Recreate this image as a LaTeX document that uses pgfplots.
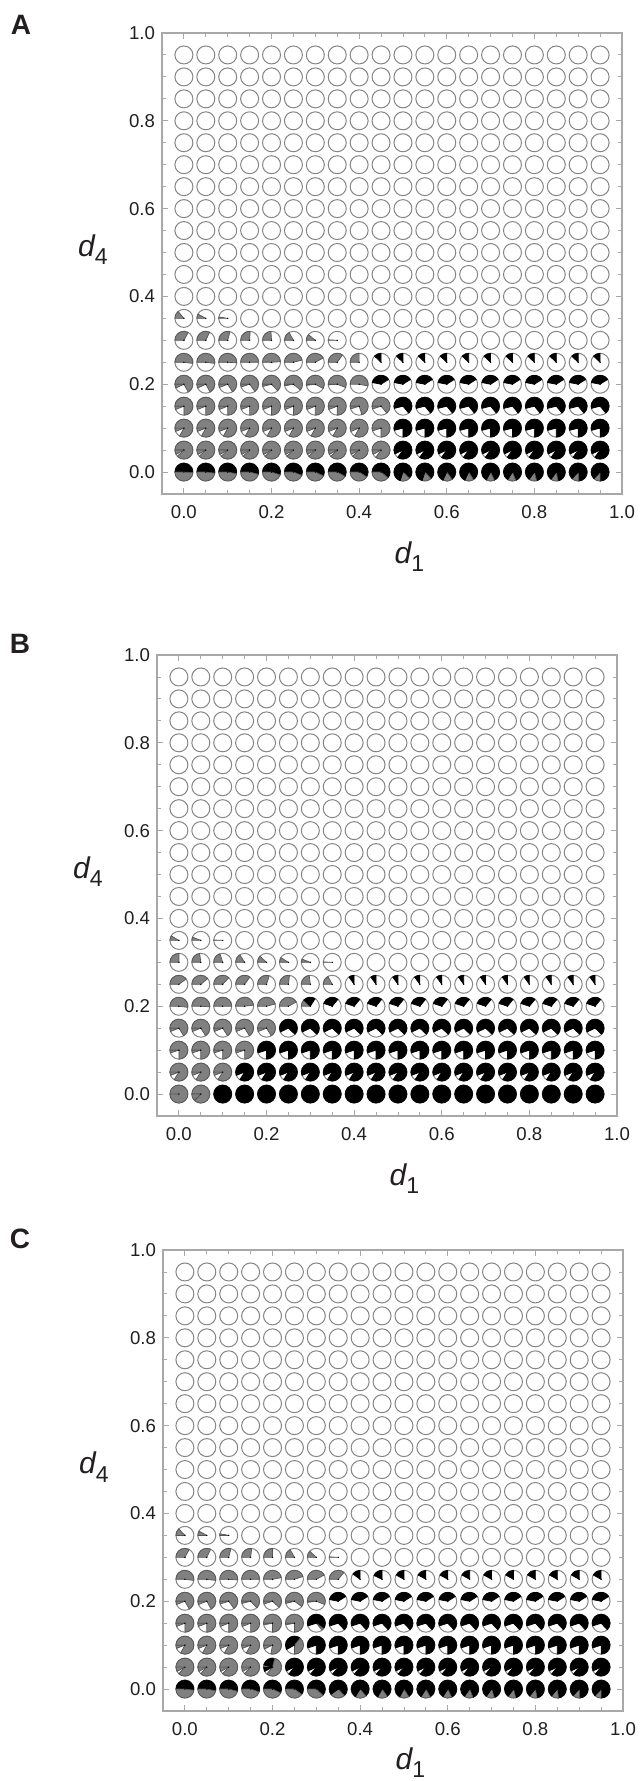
\documentclass[border=0pt]{standalone}
\usepackage{pgfplots}
\pgfplotsset{compat=1.18}
\usepackage{pgfplotstable}
\usepackage{fontspec}
\setmainfont{Liberation Sans}

\definecolor{piegray}{HTML}{808080}
\definecolor{grayedge}{HTML}{555555}
\definecolor{ringgray}{HTML}{858585}
\definecolor{axgray}{HTML}{A8A8A8}
\definecolor{txt}{HTML}{231F20}

\newcommand\pierad{4.5pt}
% one sector, clockwise from 9 o'clock: start fraction, fraction, fill, edge
\newcommand\sector[4]{%
  \pgfmathparse{(#2)>0.0005 ? 1 : 0}%
  \ifdim\pgfmathresult pt>0.5pt
    \pgfmathsetmacro\psa{180-360*(#1)}%
    \pgfmathsetmacro\psb{180-360*((#1)+(#2))}%
    \filldraw[fill=#3,draw=#4,line width=0.35pt,line join=round]
      (0pt,0pt) -- (\psa:\pierad) arc[start angle=\psa,end angle=\psb,radius=\pierad] -- cycle;
  \fi}
\newcommand\drawpie{%
  \filldraw[fill=white,draw=ringgray,line width=0.5pt] (0pt,0pt) circle[radius=\pierad];
  \sector{0}{\pga}{piegray}{grayedge}%
  \pgfmathsetmacro\pcb{\pga+\pwa}%
  \sector{\pcb}{\pka}{black}{black}%
  \pgfmathsetmacro\pcc{\pcb+\pka}%
  \sector{\pcc}{\pgb}{piegray}{grayedge}%
  \pgfmathsetmacro\pcd{\pcc+\pgb+\pwb}%
  \sector{\pcd}{\pkb}{black}{black}%
}
\newcommand\dlab[1]{{\fontsize{15}{17}\selectfont\itshape d}\raisebox{-4.2pt}{\fontsize{11.5}{13}\selectfont #1}}

\pgfplotsset{
  panel/.style={
    scale only axis, width=230pt, height=230.5pt, clip=false,
    xmin=-0.05, xmax=1, ymin=-0.05, ymax=1,
    xtick={0,0.2,0.4,0.6,0.8,1}, ytick={0,0.2,0.4,0.6,0.8,1},
    minor tick num=3, tick align=inside,
    major tick length=3pt, minor tick length=1.8pt,
    axis line style={draw=axgray, line width=0.6pt},
    tick style={draw=axgray, line width=0.45pt},
    tick label style={font=\fontsize{9.3}{11}\selectfont, text=txt},
    xticklabel style={yshift=-2pt},
    /pgf/number format/fixed, /pgf/number format/fixed zerofill,
    /pgf/number format/precision=1, /pgf/number format/assume math mode=true,
  },
  blank circles/.style={only marks, mark=*, mark size=4.5pt,
    mark options={fill=white, draw=ringgray, line width=0.5pt}},
  pie marks/.style={
    scatter, only marks, mark=*, mark size=0.1pt,
    mark options={draw=none, fill=none},
    visualization depends on={\thisrow{g1}\as\pga},
    visualization depends on={\thisrow{w1}\as\pwa},
    visualization depends on={\thisrow{k1}\as\pka},
    visualization depends on={\thisrow{g2}\as\pgb},
    visualization depends on={\thisrow{w2}\as\pwb},
    visualization depends on={\thisrow{k2}\as\pkb},
    scatter/@pre marker code/.code={\drawpie},
    scatter/@post marker code/.code={},
  },
  axis labels/.style={
    before end axis/.append code={
      \node[text=txt, anchor=base west, inner sep=0pt] at (rel axis cs:-0.183,0.515) {\dlab{4}};
      \node[text=txt, anchor=base west, inner sep=0pt] at (rel axis cs:0.505,#1) {\dlab{1}};
    },
  },
}

% circles that are empty in all three panels
\pgfplotstableread[row sep=\\]{
x y\\
0 0.95\\ 0.05 0.95\\ 0.1 0.95\\ 0.15 0.95\\ 0.2 0.95\\ 0.25 0.95\\ 0.3 0.95\\ 0.35 0.95\\ 0.4 0.95\\ 0.45 0.95\\ 0.5 0.95\\ 0.55 0.95\\ 0.6 0.95\\ 0.65 0.95\\ 0.7 0.95\\ 0.75 0.95\\ 0.8 0.95\\ 0.85 0.95\\ 0.9 0.95\\ 0.95 0.95\\
0 0.9\\ 0.05 0.9\\ 0.1 0.9\\ 0.15 0.9\\ 0.2 0.9\\ 0.25 0.9\\ 0.3 0.9\\ 0.35 0.9\\ 0.4 0.9\\ 0.45 0.9\\ 0.5 0.9\\ 0.55 0.9\\ 0.6 0.9\\ 0.65 0.9\\ 0.7 0.9\\ 0.75 0.9\\ 0.8 0.9\\ 0.85 0.9\\ 0.9 0.9\\ 0.95 0.9\\
0 0.85\\ 0.05 0.85\\ 0.1 0.85\\ 0.15 0.85\\ 0.2 0.85\\ 0.25 0.85\\ 0.3 0.85\\ 0.35 0.85\\ 0.4 0.85\\ 0.45 0.85\\ 0.5 0.85\\ 0.55 0.85\\ 0.6 0.85\\ 0.65 0.85\\ 0.7 0.85\\ 0.75 0.85\\ 0.8 0.85\\ 0.85 0.85\\ 0.9 0.85\\ 0.95 0.85\\
0 0.8\\ 0.05 0.8\\ 0.1 0.8\\ 0.15 0.8\\ 0.2 0.8\\ 0.25 0.8\\ 0.3 0.8\\ 0.35 0.8\\ 0.4 0.8\\ 0.45 0.8\\ 0.5 0.8\\ 0.55 0.8\\ 0.6 0.8\\ 0.65 0.8\\ 0.7 0.8\\ 0.75 0.8\\ 0.8 0.8\\ 0.85 0.8\\ 0.9 0.8\\ 0.95 0.8\\
0 0.75\\ 0.05 0.75\\ 0.1 0.75\\ 0.15 0.75\\ 0.2 0.75\\ 0.25 0.75\\ 0.3 0.75\\ 0.35 0.75\\ 0.4 0.75\\ 0.45 0.75\\ 0.5 0.75\\ 0.55 0.75\\ 0.6 0.75\\ 0.65 0.75\\ 0.7 0.75\\ 0.75 0.75\\ 0.8 0.75\\ 0.85 0.75\\ 0.9 0.75\\ 0.95 0.75\\
0 0.7\\ 0.05 0.7\\ 0.1 0.7\\ 0.15 0.7\\ 0.2 0.7\\ 0.25 0.7\\ 0.3 0.7\\ 0.35 0.7\\ 0.4 0.7\\ 0.45 0.7\\ 0.5 0.7\\ 0.55 0.7\\ 0.6 0.7\\ 0.65 0.7\\ 0.7 0.7\\ 0.75 0.7\\ 0.8 0.7\\ 0.85 0.7\\ 0.9 0.7\\ 0.95 0.7\\
0 0.65\\ 0.05 0.65\\ 0.1 0.65\\ 0.15 0.65\\ 0.2 0.65\\ 0.25 0.65\\ 0.3 0.65\\ 0.35 0.65\\ 0.4 0.65\\ 0.45 0.65\\ 0.5 0.65\\ 0.55 0.65\\ 0.6 0.65\\ 0.65 0.65\\ 0.7 0.65\\ 0.75 0.65\\ 0.8 0.65\\ 0.85 0.65\\ 0.9 0.65\\ 0.95 0.65\\
0 0.6\\ 0.05 0.6\\ 0.1 0.6\\ 0.15 0.6\\ 0.2 0.6\\ 0.25 0.6\\ 0.3 0.6\\ 0.35 0.6\\ 0.4 0.6\\ 0.45 0.6\\ 0.5 0.6\\ 0.55 0.6\\ 0.6 0.6\\ 0.65 0.6\\ 0.7 0.6\\ 0.75 0.6\\ 0.8 0.6\\ 0.85 0.6\\ 0.9 0.6\\ 0.95 0.6\\
0 0.55\\ 0.05 0.55\\ 0.1 0.55\\ 0.15 0.55\\ 0.2 0.55\\ 0.25 0.55\\ 0.3 0.55\\ 0.35 0.55\\ 0.4 0.55\\ 0.45 0.55\\ 0.5 0.55\\ 0.55 0.55\\ 0.6 0.55\\ 0.65 0.55\\ 0.7 0.55\\ 0.75 0.55\\ 0.8 0.55\\ 0.85 0.55\\ 0.9 0.55\\ 0.95 0.55\\
0 0.5\\ 0.05 0.5\\ 0.1 0.5\\ 0.15 0.5\\ 0.2 0.5\\ 0.25 0.5\\ 0.3 0.5\\ 0.35 0.5\\ 0.4 0.5\\ 0.45 0.5\\ 0.5 0.5\\ 0.55 0.5\\ 0.6 0.5\\ 0.65 0.5\\ 0.7 0.5\\ 0.75 0.5\\ 0.8 0.5\\ 0.85 0.5\\ 0.9 0.5\\ 0.95 0.5\\
0 0.45\\ 0.05 0.45\\ 0.1 0.45\\ 0.15 0.45\\ 0.2 0.45\\ 0.25 0.45\\ 0.3 0.45\\ 0.35 0.45\\ 0.4 0.45\\ 0.45 0.45\\ 0.5 0.45\\ 0.55 0.45\\ 0.6 0.45\\ 0.65 0.45\\ 0.7 0.45\\ 0.75 0.45\\ 0.8 0.45\\ 0.85 0.45\\ 0.9 0.45\\ 0.95 0.45\\
0 0.4\\ 0.05 0.4\\ 0.1 0.4\\ 0.15 0.4\\ 0.2 0.4\\ 0.25 0.4\\ 0.3 0.4\\ 0.35 0.4\\ 0.4 0.4\\ 0.45 0.4\\ 0.5 0.4\\ 0.55 0.4\\ 0.6 0.4\\ 0.65 0.4\\ 0.7 0.4\\ 0.75 0.4\\ 0.8 0.4\\ 0.85 0.4\\ 0.9 0.4\\ 0.95 0.4\\
0.15 0.35\\ 0.2 0.35\\ 0.25 0.35\\ 0.3 0.35\\ 0.35 0.35\\ 0.4 0.35\\ 0.45 0.35\\ 0.5 0.35\\ 0.55 0.35\\ 0.6 0.35\\ 0.65 0.35\\ 0.7 0.35\\ 0.75 0.35\\ 0.8 0.35\\ 0.85 0.35\\ 0.9 0.35\\ 0.95 0.35\\
0.4 0.3\\ 0.45 0.3\\ 0.5 0.3\\ 0.55 0.3\\ 0.6 0.3\\ 0.65 0.3\\ 0.7 0.3\\ 0.75 0.3\\ 0.8 0.3\\ 0.85 0.3\\ 0.9 0.3\\ 0.95 0.3\\
}\gridtab

% panel A: fractions clockwise from 9 o'clock (gray, white, black, gray, white, black)
\pgfplotstableread[row sep=\\]{
x y g1 w1 k1 g2 w2 k2\\
0 0.35 0.14 0 0 0 0 0\\ 0.05 0.35 0.08 0 0 0 0 0\\ 0.1 0.35 0.025 0 0 0 0 0\\
0 0.3 0.33 0 0 0 0 0\\ 0.05 0.3 0.32 0 0 0 0 0\\ 0.1 0.3 0.29 0 0 0 0 0\\ 0.15 0.3 0.26 0 0 0 0 0\\ 0.2 0.3 0.24 0 0 0 0 0\\ 0.25 0.3 0.17 0 0 0 0 0\\ 0.3 0.3 0.11 0 0 0 0 0\\ 0.35 0.3 0.01 0 0 0 0 0\\
0 0.25 0.52 0 0 0 0 0\\ 0.05 0.25 0.52 0 0 0 0 0\\ 0.1 0.25 0.51 0 0 0 0 0\\ 0.15 0.25 0.5 0 0 0 0 0\\ 0.2 0.25 0.49 0 0 0 0 0\\ 0.25 0.25 0.46 0 0 0 0 0\\ 0.3 0.25 0.42 0 0 0 0 0\\ 0.35 0.25 0.35 0 0 0 0 0\\ 0.4 0.25 0.25 0 0 0 0 0\\
0.45 0.25 0 0.12 0.13 0 0 0\\ 0.5 0.25 0 0.12 0.13 0 0 0\\ 0.55 0.25 0 0.12 0.13 0 0 0\\ 0.6 0.25 0 0.12 0.13 0 0 0\\ 0.65 0.25 0 0.12 0.13 0 0 0\\ 0.7 0.25 0 0.12 0.13 0 0 0\\ 0.75 0.25 0 0.12 0.13 0 0 0\\ 0.8 0.25 0 0.12 0.13 0 0 0\\ 0.85 0.25 0 0.12 0.13 0 0 0\\ 0.9 0.25 0 0.12 0.13 0 0 0\\ 0.95 0.25 0 0.12 0.13 0 0 0\\
0 0.2 0.67 0.26 0 0.07 0 0\\ 0.05 0.2 0.67 0.26 0 0.07 0 0\\ 0.1 0.2 0.66 0.28 0 0.06 0 0\\ 0.15 0.2 0.65 0.3 0 0.05 0 0\\ 0.2 0.2 0.63 0.33 0 0.04 0 0\\ 0.25 0.2 0.61 0.36 0 0.03 0 0\\ 0.3 0.2 0.58 0.4 0 0.02 0 0\\ 0.35 0.2 0.56 0.43 0 0.01 0 0\\ 0.4 0.2 0.53 0.47 0 0 0 0\\
0.45 0.2 0 0.03 0.38 0 0 0\\ 0.5 0.2 0 0.03 0.38 0 0 0\\ 0.55 0.2 0 0.03 0.38 0 0 0\\ 0.6 0.2 0 0.03 0.38 0 0 0\\ 0.65 0.2 0 0.03 0.38 0 0 0\\ 0.7 0.2 0 0.03 0.38 0 0 0\\ 0.75 0.2 0 0.03 0.38 0 0 0\\ 0.8 0.2 0 0.03 0.38 0 0 0\\ 0.85 0.2 0 0.03 0.38 0 0 0\\ 0.9 0.2 0 0.03 0.38 0 0 0\\ 0.95 0.2 0 0.03 0.38 0 0 0\\
0 0.15 0.75 0.19 0 0.06 0 0\\ 0.05 0.15 0.75 0.19 0 0.06 0 0\\ 0.1 0.15 0.75 0.19 0 0.06 0 0\\ 0.15 0.15 0.75 0.19 0 0.06 0 0\\ 0.2 0.15 0.75 0.19 0 0.06 0 0\\ 0.25 0.15 0.75 0.19 0 0.06 0 0\\ 0.3 0.15 0.75 0.19 0 0.06 0 0\\ 0.35 0.15 0.75 0.19 0 0.06 0 0\\ 0.4 0.15 0.7 0.25 0 0.05 0 0\\ 0.45 0.15 0.64 0.31 0 0.05 0 0\\
0.5 0.15 0 0 0.64 0 0.32 0.04\\ 0.55 0.15 0 0 0.64 0 0.32 0.04\\ 0.6 0.15 0 0 0.64 0 0.32 0.04\\ 0.65 0.15 0 0 0.64 0 0.32 0.04\\ 0.7 0.15 0 0 0.64 0 0.32 0.04\\ 0.75 0.15 0 0 0.64 0 0.32 0.04\\ 0.8 0.15 0 0 0.64 0 0.32 0.04\\ 0.85 0.15 0 0 0.64 0 0.32 0.04\\ 0.9 0.15 0 0 0.64 0 0.32 0.04\\ 0.95 0.15 0 0 0.64 0 0.32 0.04\\
0 0.1 0.83 0.11 0 0.06 0 0\\ 0.05 0.1 0.83 0.11 0 0.06 0 0\\ 0.1 0.1 0.83 0.11 0 0.06 0 0\\ 0.15 0.1 0.83 0.11 0 0.06 0 0\\ 0.2 0.1 0.83 0.11 0 0.06 0 0\\ 0.25 0.1 0.83 0.11 0 0.06 0 0\\ 0.3 0.1 0.83 0.11 0 0.06 0 0\\ 0.35 0.1 0.83 0.11 0 0.06 0 0\\ 0.4 0.1 0.83 0.11 0 0.06 0 0\\ 0.45 0.1 0.75 0.2 0 0.05 0 0\\
0.5 0.1 0 0 0.75 0 0.21 0.04\\ 0.55 0.1 0 0 0.75 0 0.21 0.04\\ 0.6 0.1 0 0 0.75 0 0.21 0.04\\ 0.65 0.1 0 0 0.75 0 0.21 0.04\\ 0.7 0.1 0 0 0.75 0 0.21 0.04\\ 0.75 0.1 0 0 0.75 0 0.21 0.04\\ 0.8 0.1 0 0 0.75 0 0.21 0.04\\ 0.85 0.1 0 0 0.75 0 0.21 0.04\\ 0.9 0.1 0 0 0.75 0 0.21 0.04\\ 0.95 0.1 0 0 0.75 0 0.21 0.04\\
0 0.05 0.88 0.04 0 0.08 0 0\\ 0.05 0.05 0.88 0.04 0 0.08 0 0\\ 0.1 0.05 0.88 0.04 0 0.08 0 0\\ 0.15 0.05 0.88 0.04 0 0.08 0 0\\ 0.2 0.05 0.88 0.04 0 0.08 0 0\\ 0.25 0.05 0.88 0.04 0 0.08 0 0\\ 0.3 0.05 0.88 0.04 0 0.08 0 0\\ 0.35 0.05 0.88 0.04 0 0.08 0 0\\ 0.4 0.05 0.88 0.04 0 0.08 0 0\\ 0.45 0.05 0.85 0.07 0 0.08 0 0\\
0.5 0.05 0 0 0.85 0 0.08 0.07\\ 0.55 0.05 0 0 0.85 0 0.08 0.07\\ 0.6 0.05 0 0 0.85 0 0.08 0.07\\ 0.65 0.05 0 0 0.85 0 0.08 0.07\\ 0.7 0.05 0 0 0.85 0 0.08 0.07\\ 0.75 0.05 0 0 0.85 0 0.08 0.07\\ 0.8 0.05 0 0 0.85 0 0.08 0.07\\ 0.85 0.05 0 0 0.85 0 0.08 0.07\\ 0.9 0.05 0 0 0.85 0 0.08 0.07\\ 0.95 0.05 0 0 0.85 0 0.08 0.07\\
0 0 0 0 0.51 0.49 0 0\\ 0.05 0 0 0 0.52 0.48 0 0\\ 0.1 0 0 0 0.53 0.47 0 0\\ 0.15 0 0 0 0.54 0.46 0 0\\ 0.2 0 0 0 0.55 0.45 0 0\\ 0.25 0 0 0 0.56 0.44 0 0\\ 0.3 0 0 0 0.57 0.43 0 0\\ 0.35 0 0 0 0.58 0.42 0 0\\ 0.4 0 0 0 0.59 0.41 0 0\\ 0.45 0 0 0 0.61 0.39 0 0\\
0.5 0 0 0 0.62 0.18 0 0.2\\ 0.55 0 0 0 0.63 0.17 0 0.2\\ 0.6 0 0 0 0.65 0.17 0 0.18\\ 0.65 0 0 0 0.66 0.16 0 0.18\\ 0.7 0 0 0 0.68 0.15 0 0.17\\ 0.75 0 0 0 0.69 0.15 0 0.16\\ 0.8 0 0 0 0.71 0.14 0 0.15\\ 0.85 0 0 0 0.72 0.13 0 0.15\\ 0.9 0 0 0 0.74 0.13 0 0.13\\ 0.95 0 0 0 0.75 0.12 0 0.13\\
}\tabA

% panel B
\pgfplotstableread[row sep=\\]{
x y g1 w1 k1 g2 w2 k2\\
0 0.35 0.085 0 0 0 0 0\\ 0.05 0.35 0.06 0 0 0 0 0\\ 0.1 0.35 0.008 0 0 0 0 0\\
0 0.3 0.25 0 0 0 0 0\\ 0.05 0.3 0.23 0 0 0 0 0\\ 0.1 0.3 0.2 0 0 0 0 0\\ 0.15 0.3 0.16 0 0 0 0 0\\ 0.2 0.3 0.12 0 0 0 0 0\\ 0.25 0.3 0.09 0 0 0 0 0\\ 0.3 0.3 0.06 0 0 0 0 0\\ 0.35 0.3 0.008 0 0 0 0 0\\
0 0.25 0.4 0 0 0 0 0\\ 0.05 0.25 0.39 0 0 0 0 0\\ 0.1 0.25 0.37 0 0 0 0 0\\ 0.15 0.25 0.35 0 0 0 0 0\\ 0.2 0.25 0.3 0 0 0 0 0\\ 0.25 0.25 0.27 0 0 0 0 0\\ 0.3 0.25 0.23 0 0 0 0 0\\ 0.35 0.25 0.17 0 0 0 0 0\\
0.4 0.25 0 0.15 0.1 0 0 0\\ 0.45 0.25 0 0.15 0.1 0 0 0\\ 0.5 0.25 0 0.15 0.1 0 0 0\\ 0.55 0.25 0 0.15 0.1 0 0 0\\ 0.6 0.25 0 0.15 0.1 0 0 0\\ 0.65 0.25 0 0.15 0.1 0 0 0\\ 0.7 0.25 0 0.15 0.1 0 0 0\\ 0.75 0.25 0 0.15 0.1 0 0 0\\ 0.8 0.25 0 0.15 0.1 0 0 0\\ 0.85 0.25 0 0.15 0.1 0 0 0\\ 0.9 0.25 0 0.15 0.1 0 0 0\\ 0.95 0.25 0 0.15 0.1 0 0 0\\
0 0.2 0.52 0 0 0 0 0\\ 0.05 0.2 0.51 0 0 0 0 0\\ 0.1 0.2 0.5 0 0 0 0 0\\ 0.15 0.2 0.48 0 0 0 0 0\\ 0.2 0.2 0.46 0 0 0 0 0\\ 0.25 0.2 0.42 0 0 0 0 0\\ 0.3 0.2 0.12 0 0.22 0 0 0\\
0.35 0.2 0 0.05 0.31 0 0 0\\ 0.4 0.2 0 0.05 0.31 0 0 0\\ 0.45 0.2 0 0.05 0.31 0 0 0\\ 0.5 0.2 0 0.05 0.31 0 0 0\\ 0.55 0.2 0 0.05 0.31 0 0 0\\ 0.6 0.2 0 0.05 0.31 0 0 0\\ 0.65 0.2 0 0.05 0.31 0 0 0\\ 0.7 0.2 0 0.05 0.31 0 0 0\\ 0.75 0.2 0 0.05 0.31 0 0 0\\ 0.8 0.2 0 0.05 0.31 0 0 0\\ 0.85 0.2 0 0.05 0.31 0 0 0\\ 0.9 0.2 0 0.05 0.31 0 0 0\\ 0.95 0.2 0 0.05 0.31 0 0 0\\
0 0.15 0.66 0.28 0 0.06 0 0\\ 0.05 0.15 0.66 0.28 0 0.06 0 0\\ 0.1 0.15 0.66 0.28 0 0.06 0 0\\ 0.15 0.15 0.66 0.28 0 0.06 0 0\\ 0.2 0.15 0.66 0.28 0 0.06 0 0\\
0.25 0.15 0 0 0.62 0 0.31 0.07\\ 0.3 0.15 0 0 0.62 0 0.31 0.07\\ 0.35 0.15 0 0 0.62 0 0.31 0.07\\ 0.4 0.15 0 0 0.62 0 0.31 0.07\\ 0.45 0.15 0 0 0.62 0 0.31 0.07\\ 0.5 0.15 0 0 0.62 0 0.31 0.07\\ 0.55 0.15 0 0 0.62 0 0.31 0.07\\ 0.6 0.15 0 0 0.62 0 0.31 0.07\\ 0.65 0.15 0 0 0.62 0 0.31 0.07\\ 0.7 0.15 0 0 0.62 0 0.31 0.07\\ 0.75 0.15 0 0 0.62 0 0.31 0.07\\ 0.8 0.15 0 0 0.62 0 0.31 0.07\\ 0.85 0.15 0 0 0.62 0 0.31 0.07\\ 0.9 0.15 0 0 0.62 0 0.31 0.07\\ 0.95 0.15 0 0 0.62 0 0.31 0.07\\
0 0.1 0.75 0.2 0 0.05 0 0\\ 0.05 0.1 0.75 0.2 0 0.05 0 0\\ 0.1 0.1 0.75 0.2 0 0.05 0 0\\ 0.15 0.1 0.75 0.2 0 0.05 0 0\\
0.2 0.1 0 0 0.75 0 0.2 0.05\\ 0.25 0.1 0 0 0.75 0 0.2 0.05\\ 0.3 0.1 0 0 0.75 0 0.2 0.05\\ 0.35 0.1 0 0 0.75 0 0.2 0.05\\ 0.4 0.1 0 0 0.75 0 0.2 0.05\\ 0.45 0.1 0 0 0.75 0 0.2 0.05\\ 0.5 0.1 0 0 0.75 0 0.2 0.05\\ 0.55 0.1 0 0 0.75 0 0.2 0.05\\ 0.6 0.1 0 0 0.75 0 0.2 0.05\\ 0.65 0.1 0 0 0.75 0 0.2 0.05\\ 0.7 0.1 0 0 0.75 0 0.2 0.05\\ 0.75 0.1 0 0 0.75 0 0.2 0.05\\ 0.8 0.1 0 0 0.75 0 0.2 0.05\\ 0.85 0.1 0 0 0.75 0 0.2 0.05\\ 0.9 0.1 0 0 0.75 0 0.2 0.05\\ 0.95 0.1 0 0 0.75 0 0.2 0.05\\
0 0.05 0.84 0.1 0 0.06 0 0\\ 0.05 0.05 0.84 0.1 0 0.06 0 0\\ 0.1 0.05 0.84 0.1 0 0.06 0 0\\
0.15 0.05 0 0 0.84 0 0.1 0.06\\ 0.2 0.05 0 0 0.84 0 0.1 0.06\\ 0.25 0.05 0 0 0.84 0 0.1 0.06\\ 0.3 0.05 0 0 0.84 0 0.1 0.06\\ 0.35 0.05 0 0 0.84 0 0.1 0.06\\ 0.4 0.05 0 0 0.84 0 0.1 0.06\\ 0.45 0.05 0 0 0.84 0 0.1 0.06\\ 0.5 0.05 0 0 0.84 0 0.1 0.06\\ 0.55 0.05 0 0 0.84 0 0.1 0.06\\ 0.6 0.05 0 0 0.84 0 0.1 0.06\\ 0.65 0.05 0 0 0.84 0 0.1 0.06\\ 0.7 0.05 0 0 0.84 0 0.1 0.06\\ 0.75 0.05 0 0 0.84 0 0.1 0.06\\ 0.8 0.05 0 0 0.84 0 0.1 0.06\\ 0.85 0.05 0 0 0.84 0 0.1 0.06\\ 0.9 0.05 0 0 0.84 0 0.1 0.06\\ 0.95 0.05 0 0 0.84 0 0.1 0.06\\
0 0 1 0 0 0 0 0\\ 0.05 0 0.87 0.008 0 0.122 0 0\\
0.1 0 0 0 1 0 0 0\\ 0.15 0 0 0 1 0 0 0\\ 0.2 0 0 0 1 0 0 0\\ 0.25 0 0 0 1 0 0 0\\ 0.3 0 0 0 1 0 0 0\\ 0.35 0 0 0 1 0 0 0\\ 0.4 0 0 0 1 0 0 0\\ 0.45 0 0 0 1 0 0 0\\ 0.5 0 0 0 1 0 0 0\\ 0.55 0 0 0 1 0 0 0\\ 0.6 0 0 0 1 0 0 0\\ 0.65 0 0 0 1 0 0 0\\ 0.7 0 0 0 1 0 0 0\\ 0.75 0 0 0 1 0 0 0\\ 0.8 0 0 0 1 0 0 0\\ 0.85 0 0 0 1 0 0 0\\ 0.9 0 0 0 1 0 0 0\\ 0.95 0 0 0 1 0 0 0\\
}\tabB

% panel C
\pgfplotstableread[row sep=\\]{
x y g1 w1 k1 g2 w2 k2\\
0 0.35 0.13 0 0 0 0 0\\ 0.05 0.35 0.08 0 0 0 0 0\\ 0.1 0.35 0.03 0 0 0 0 0\\
0 0.3 0.33 0 0 0 0 0\\ 0.05 0.3 0.32 0 0 0 0 0\\ 0.1 0.3 0.29 0 0 0 0 0\\ 0.15 0.3 0.27 0 0 0 0 0\\ 0.2 0.3 0.25 0 0 0 0 0\\ 0.25 0.3 0.17 0 0 0 0 0\\ 0.3 0.3 0.12 0 0 0 0 0\\ 0.35 0.3 0.01 0 0 0 0 0\\
0 0.25 0.52 0 0 0 0 0\\ 0.05 0.25 0.52 0 0 0 0 0\\ 0.1 0.25 0.51 0 0 0 0 0\\ 0.15 0.25 0.5 0 0 0 0 0\\ 0.2 0.25 0.47 0 0 0 0 0\\ 0.25 0.25 0.45 0 0 0 0 0\\ 0.3 0.25 0.42 0 0 0 0 0\\ 0.35 0.25 0.36 0 0 0 0 0\\
0.4 0.25 0 0.1 0.15 0 0 0\\ 0.45 0.25 0 0.07 0.18 0 0 0\\ 0.5 0.25 0 0.08 0.17 0 0 0\\ 0.55 0.25 0 0.08 0.17 0 0 0\\ 0.6 0.25 0 0.08 0.17 0 0 0\\ 0.65 0.25 0 0.08 0.17 0 0 0\\ 0.7 0.25 0 0.08 0.17 0 0 0\\ 0.75 0.25 0 0.08 0.17 0 0 0\\ 0.8 0.25 0 0.08 0.17 0 0 0\\ 0.85 0.25 0 0.08 0.17 0 0 0\\ 0.9 0.25 0 0.08 0.17 0 0 0\\ 0.95 0.25 0 0.08 0.17 0 0 0\\
0 0.2 0.67 0.27 0 0.06 0 0\\ 0.05 0.2 0.67 0.27 0 0.06 0 0\\ 0.1 0.2 0.65 0.3 0 0.05 0 0\\ 0.15 0.2 0.63 0.33 0 0.04 0 0\\ 0.2 0.2 0.62 0.33 0 0.05 0 0\\ 0.25 0.2 0.6 0.36 0 0.04 0 0\\ 0.3 0.2 0.56 0.42 0 0.02 0 0\\
0.35 0.2 0 0.03 0.38 0 0 0\\ 0.4 0.2 0 0.03 0.38 0 0 0\\ 0.45 0.2 0 0.03 0.38 0 0 0\\ 0.5 0.2 0 0.03 0.38 0 0 0\\ 0.55 0.2 0 0.03 0.38 0 0 0\\ 0.6 0.2 0 0.03 0.38 0 0 0\\ 0.65 0.2 0 0.03 0.38 0 0 0\\ 0.7 0.2 0 0.03 0.38 0 0 0\\ 0.75 0.2 0 0.03 0.38 0 0 0\\ 0.8 0.2 0 0.03 0.38 0 0 0\\ 0.85 0.2 0 0.03 0.38 0 0 0\\ 0.9 0.2 0 0.03 0.38 0 0 0\\ 0.95 0.2 0 0.03 0.38 0 0 0\\
0 0.15 0.75 0.19 0 0.06 0 0\\ 0.05 0.15 0.75 0.19 0 0.06 0 0\\ 0.1 0.15 0.75 0.19 0 0.06 0 0\\ 0.15 0.15 0.75 0.19 0 0.06 0 0\\ 0.2 0.15 0.75 0.22 0 0.03 0 0\\ 0.25 0.15 0.75 0.22 0 0.03 0 0\\
0.3 0.15 0 0 0.6 0.04 0.31 0.05\\ 0.35 0.15 0 0 0.63 0 0.32 0.05\\ 0.4 0.15 0 0 0.63 0 0.32 0.05\\ 0.45 0.15 0 0 0.63 0 0.32 0.05\\ 0.5 0.15 0 0 0.63 0 0.32 0.05\\ 0.55 0.15 0 0 0.63 0 0.32 0.05\\ 0.6 0.15 0 0 0.63 0 0.32 0.05\\ 0.65 0.15 0 0 0.63 0 0.32 0.05\\ 0.7 0.15 0 0 0.63 0 0.32 0.05\\ 0.75 0.15 0 0 0.63 0 0.32 0.05\\ 0.8 0.15 0 0 0.63 0 0.32 0.05\\ 0.85 0.15 0 0 0.63 0 0.32 0.05\\ 0.9 0.15 0 0 0.63 0 0.32 0.05\\ 0.95 0.15 0 0 0.63 0 0.32 0.05\\
0 0.1 0.83 0.11 0 0.06 0 0\\ 0.05 0.1 0.83 0.11 0 0.06 0 0\\ 0.1 0.1 0.83 0.11 0 0.06 0 0\\ 0.15 0.1 0.83 0.11 0 0.06 0 0\\ 0.2 0.1 0.78 0.15 0 0.07 0 0\\ 0.25 0.1 0 0 0.36 0.39 0.17 0.08\\
0.3 0.1 0 0 0.75 0 0.2 0.05\\ 0.35 0.1 0 0 0.75 0 0.2 0.05\\ 0.4 0.1 0 0 0.75 0 0.2 0.05\\ 0.45 0.1 0 0 0.75 0 0.2 0.05\\ 0.5 0.1 0 0 0.75 0 0.2 0.05\\ 0.55 0.1 0 0 0.75 0 0.2 0.05\\ 0.6 0.1 0 0 0.75 0 0.2 0.05\\ 0.65 0.1 0 0 0.75 0 0.2 0.05\\ 0.7 0.1 0 0 0.75 0 0.2 0.05\\ 0.75 0.1 0 0 0.75 0 0.2 0.05\\ 0.8 0.1 0 0 0.75 0 0.2 0.05\\ 0.85 0.1 0 0 0.75 0 0.2 0.05\\ 0.9 0.1 0 0 0.75 0 0.2 0.05\\ 0.95 0.1 0 0 0.75 0 0.2 0.05\\
0 0.05 0.87 0.05 0 0.08 0 0\\ 0.05 0.05 0.87 0.05 0 0.08 0 0\\ 0.1 0.05 0.87 0.05 0 0.08 0 0\\ 0.15 0.05 0.87 0.05 0 0.08 0 0\\ 0.2 0.05 0.04 0 0.25 0.57 0.06 0.08\\
0.25 0.05 0 0 0.86 0 0.07 0.07\\ 0.3 0.05 0 0 0.86 0 0.07 0.07\\ 0.35 0.05 0 0 0.86 0 0.07 0.07\\ 0.4 0.05 0 0 0.86 0 0.07 0.07\\ 0.45 0.05 0 0 0.86 0 0.07 0.07\\ 0.5 0.05 0 0 0.86 0 0.07 0.07\\ 0.55 0.05 0 0 0.86 0 0.07 0.07\\ 0.6 0.05 0 0 0.86 0 0.07 0.07\\ 0.65 0.05 0 0 0.86 0 0.07 0.07\\ 0.7 0.05 0 0 0.86 0 0.07 0.07\\ 0.75 0.05 0 0 0.86 0 0.07 0.07\\ 0.8 0.05 0 0 0.86 0 0.07 0.07\\ 0.85 0.05 0 0 0.86 0 0.07 0.07\\ 0.9 0.05 0 0 0.86 0 0.07 0.07\\ 0.95 0.05 0 0 0.86 0 0.07 0.07\\
0 0 0 0 0.52 0.48 0 0\\ 0.05 0 0 0 0.53 0.47 0 0\\ 0.1 0 0 0 0.54 0.46 0 0\\ 0.15 0 0 0 0.55 0.45 0 0\\ 0.2 0 0 0 0.57 0.43 0 0\\ 0.25 0 0 0 0.6 0.4 0 0\\ 0.3 0 0 0 0.62 0.38 0 0\\ 0.35 0 0 0 0.63 0.27 0 0.1\\ 0.4 0 0 0 0.64 0.2 0 0.16\\ 0.45 0 0 0 0.65 0.18 0 0.17\\
0.5 0 0 0 0.66 0.17 0 0.17\\ 0.55 0 0 0 0.67 0.17 0 0.16\\ 0.6 0 0 0 0.68 0.16 0 0.16\\ 0.65 0 0 0 0.69 0.16 0 0.15\\ 0.7 0 0 0 0.7 0.15 0 0.15\\ 0.75 0 0 0 0.71 0.14 0 0.15\\ 0.8 0 0 0 0.72 0.14 0 0.14\\ 0.85 0 0 0 0.73 0.13 0 0.14\\ 0.9 0 0 0 0.74 0.13 0 0.13\\ 0.95 0 0 0 0.75 0.12 0 0.13\\
}\tabC

\begin{document}
\begin{tikzpicture}
\path[use as bounding box] (0,0) rectangle (320pt,-890.5pt);

\begin{axis}[panel, axis labels=-0.150, at={(81pt,-247pt)}, anchor=south west]
\addplot[blank circles] table[x=x,y=y] {\gridtab};
\addplot[pie marks] table[x=x,y=y] {\tabA};
\end{axis}

\begin{axis}[panel, axis labels=-0.150, at={(78.5pt,-558pt)}, anchor=south west]
\addplot[blank circles] table[x=x,y=y] {\gridtab};
\addplot[pie marks] table[x=x,y=y] {\tabB};
\end{axis}

\begin{axis}[panel, axis labels=-0.126, at={(81.5pt,-855.5pt)}, anchor=south west]
\addplot[blank circles] table[x=x,y=y] {\gridtab};
\addplot[pie marks] table[x=x,y=y] {\tabC};
\end{axis}

\node[font=\fontsize{14}{16}\selectfont\bfseries, text=txt] at (10.5pt,-12.5pt) {A};
\node[font=\fontsize{14}{16}\selectfont\bfseries, text=txt] at (10pt,-322pt) {B};
\node[font=\fontsize{14}{16}\selectfont\bfseries, text=txt] at (10pt,-619.5pt) {C};
\end{tikzpicture}
\end{document}
